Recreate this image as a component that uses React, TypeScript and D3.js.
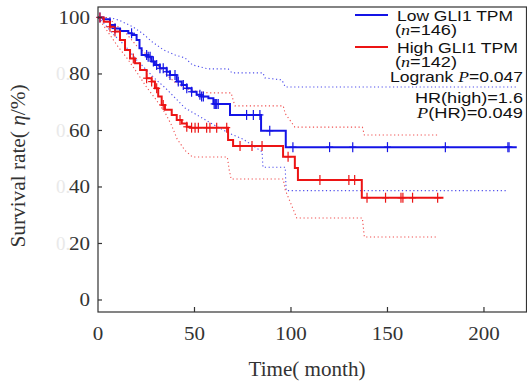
import * as d3 from "d3";

// Kaplan-Meier steps (time in months, survival in %)
const lowTime = [0, 2.7, 6.2, 8.8, 11.4, 15.7, 17.5, 20, 21.5, 22.6, 26, 27.8, 29.5, 32, 35.6, 37.3, 40.8, 43.4, 46, 48.5, 51.1, 53.7, 57.2, 59.8, 68.4, 84.5, 97.3];
const lowSurv = [100, 99.4, 97.3, 96.1, 95.2, 94.4, 93.8, 92, 89.1, 86.7, 86.1, 84.4, 83.2, 82, 80.8, 79.6, 77.3, 76.1, 74.9, 73.7, 72.6, 72, 71.4, 69.4, 65.5, 59.9, 54.1];
const lowEnd = 217;
const lowCensor = [1, 8.8, 17.4, 25.2, 26, 27, 28.7, 30.4, 32.1, 33.8, 35.6, 37.3, 39.9, 41.6, 44.2, 46, 48.5, 52.8, 53.7, 54.6, 60.2, 60.8, 61.5, 62.3, 77, 80.5, 83.9, 89, 101, 120, 132, 150, 180, 212.4, 213];

const highTime = [0, 3, 6.2, 8.8, 11.4, 14, 16.6, 19.2, 21.8, 25.2, 27.8, 29.5, 31.2, 33, 34.7, 38.2, 40.8, 43.4, 46, 47.7, 67.4, 70, 95.9, 102, 103.6, 136.7];
const highSurv = [100, 98.5, 96.7, 95, 92, 88.5, 85.5, 83.8, 81.4, 78.5, 77.3, 74.9, 72, 69, 67.3, 65.5, 63.7, 62.5, 61.3, 61, 56.6, 54.5, 50.7, 46.7, 42.5, 36.2];
const highEnd = 179;
const highCensor = [1, 6.2, 8.8, 18.3, 25.2, 27.8, 30.4, 33.8, 42.5, 46, 48.5, 50.3, 52, 56.3, 58, 61.5, 66.7, 73.6, 79.8, 85, 98.5, 115, 130, 133, 139.4, 149, 157, 158, 163, 176];

// confidence bands (dotted)
const lowUpper: [number, number][] = [[0, 100], [6, 100], [11, 99], [18, 96.7], [23, 94.4], [28, 91.4], [34, 88.5], [40, 86.7], [45, 85.7], [49, 83.2], [57, 81.8], [67.4, 81.8], [69.4, 80.4], [85.5, 80.4], [86.5, 78.6], [95.3, 77.9], [97, 75.4], [217, 75.4]];
const lowLower: [number, number][] = [[0, 100], [3, 98], [8, 94], [14, 90], [20, 85], [25, 81.5], [30, 78], [35, 75], [40, 71.5], [45, 68], [50, 66], [55, 64], [60, 62], [68, 59], [75, 57], [85, 52.5], [85.5, 47], [97, 47], [97.5, 38.7], [212, 38.7]];
const highUpper: [number, number][] = [[0, 100], [5, 100], [10, 97], [15, 94], [20, 90], [25, 87], [30, 84], [35, 80], [40, 77], [45, 75], [50, 74], [57, 73.3], [69, 73.3], [70, 70.8], [71, 68.7], [96, 68.7], [97, 66], [102, 61.2], [137, 61.2], [138, 58.4], [176, 58.4]];
const highLower: [number, number][] = [[0, 100], [2, 98], [5, 95], [10, 90], [15, 85.6], [20, 80.7], [25, 75.5], [30, 71], [35, 66], [38, 62], [41, 57], [45, 53], [49, 50.6], [67, 50.6], [68, 46], [69, 42.8], [96, 42.8], [97, 39], [103, 29], [137, 29], [138, 22.3], [176, 22.3]];

const yTicks = [0, 20, 40, 60, 80, 100];
const xTicks = [0, 50, 100, 150, 200];

const BLUE = "#1414e6";
const RED = "#ec1414";
const AXIS = "#333";
const SERIF = "'Liberation Serif', 'DejaVu Serif', serif";
const SANS = "'Liberation Sans', Arial, sans-serif";

const W = 527;
const H = 383;

const x = d3.scaleLinear().domain([0, 222.3]).range([98, 527]);
const y = d3.scaleLinear().domain([-4.25, 103.7]).range([312, 7]);

const survAt = (times: number[], surv: number[], t: number) => {
  let v = surv[0];
  for (let i = 0; i < times.length; i++) if (times[i] <= t) v = surv[i];
  return v;
};

const stepLine = d3
  .line<[number, number]>()
  .x((d) => x(d[0]))
  .y((d) => y(d[1]))
  .curve(d3.curveStepAfter);

const ciLine = d3
  .line<[number, number]>()
  .x((d) => x(d[0]))
  .y((d) => y(d[1]));

const stepPoints = (times: number[], surv: number[], end: number) => {
  const pts: [number, number][] = times.map((t, i) => [t, surv[i]]);
  pts.push([end, surv[surv.length - 1]]);
  return pts;
};

const Censors = ({ times, surv, marks, color }: { times: number[]; surv: number[]; marks: number[]; color: string }) => (
  <g stroke={color} strokeWidth={1.2}>
    {marks.map((t, i) => {
      const cx = x(t);
      const cy = y(survAt(times, surv, t));
      return (
        <g key={i}>
          <line x1={cx} x2={cx} y1={cy - 5} y2={cy + 5} />
          <line x1={cx - 3.5} x2={cx + 3.5} y1={cy} y2={cy} />
        </g>
      );
    })}
  </g>
);

export default function App() {
  return (
    <svg
      width={W}
      height={H}
      style={{ position: "absolute", left: 0, top: 0, background: "#fff" }}
    >
      {/* confidence bands */}
      <g fill="none" strokeWidth={1.1} strokeDasharray="1.2 2.6" opacity={0.75}>
        <path d={ciLine(lowUpper) ?? ""} stroke={BLUE} />
        <path d={ciLine(lowLower) ?? ""} stroke={BLUE} />
        <path d={ciLine(highUpper) ?? ""} stroke={RED} />
        <path d={ciLine(highLower) ?? ""} stroke={RED} />
      </g>

      {/* survival curves */}
      <path d={stepLine(stepPoints(lowTime, lowSurv, lowEnd)) ?? ""} fill="none" stroke={BLUE} strokeWidth={2} />
      <path d={stepLine(stepPoints(highTime, highSurv, highEnd)) ?? ""} fill="none" stroke={RED} strokeWidth={2} />
      <Censors times={lowTime} surv={lowSurv} marks={lowCensor} color={BLUE} />
      <Censors times={highTime} surv={highSurv} marks={highCensor} color={RED} />

      {/* frame */}
      <rect x={98} y={7} width={428.5} height={305} fill="none" stroke={AXIS} strokeWidth={1.2} />

      {/* y axis */}
      <g fontFamily={SERIF} fontSize={19} fill={AXIS}>
        {yTicks.map((v) => {
          const ty = y(v);
          const label = String(v);
          return (
            <g key={v}>
              <line x1={98} x2={102} y1={ty} y2={ty} stroke={AXIS} strokeWidth={1.2} />
              {v > 0 && v < 100 && (
                <text x={56} y={ty + 6.5} fill="#e9e9e9">0.</text>
              )}
              <text x={90} y={ty + 6.5} textAnchor="end" textLength={label.length * 10.5} lengthAdjust="spacingAndGlyphs">
                {label}
              </text>
            </g>
          );
        })}
      </g>

      {/* x axis */}
      <g fontFamily={SERIF} fontSize={19} fill={AXIS}>
        {xTicks.map((v) => {
          const tx = x(v);
          const label = String(v);
          return (
            <g key={v}>
              {v > 0 && <line x1={tx} x2={tx} y1={312} y2={307} stroke={AXIS} strokeWidth={1.2} />}
              <text x={tx} y={340} textAnchor="middle" textLength={label.length * 10.5} lengthAdjust="spacingAndGlyphs">
                {label}
              </text>
            </g>
          );
        })}
      </g>

      {/* axis titles */}
      <text x={307} y={376} textAnchor="middle" fontFamily={SERIF} fontSize={20} fill={AXIS} textLength={117} lengthAdjust="spacingAndGlyphs">
        Time( month)
      </text>
      <text
        transform="translate(25,166) rotate(-90)"
        textAnchor="middle"
        fontFamily={SERIF}
        fontSize={20}
        fill={AXIS}
        textLength={163}
        lengthAdjust="spacingAndGlyphs"
      >
        Survival rate( <tspan fontStyle="italic">η</tspan>/%)
      </text>

      {/* legend */}
      <g fontFamily={SANS} fontSize={14} fill="#111">
        <line x1={355} x2={388} y1={15} y2={15} stroke={BLUE} strokeWidth={2} />
        <text x={397} y={20.5} textLength={116} lengthAdjust="spacingAndGlyphs">Low GLI1 TPM</text>
        <text x={395} y={35} textLength={62} lengthAdjust="spacingAndGlyphs">
          (<tspan fontFamily={SERIF} fontStyle="italic">n</tspan>=146)
        </text>
        <line x1={355} x2={388} y1={47} y2={47} stroke={RED} strokeWidth={2} />
        <text x={397} y={52.5} textLength={121} lengthAdjust="spacingAndGlyphs">High GLI1 TPM</text>
        <text x={395} y={67} textLength={62} lengthAdjust="spacingAndGlyphs">
          (<tspan fontFamily={SERIF} fontStyle="italic">n</tspan>=142)
        </text>
        <text x={523} y={81.5} textAnchor="end" textLength={133} lengthAdjust="spacingAndGlyphs">
          Logrank <tspan fontFamily={SERIF} fontStyle="italic">P</tspan>=0.047
        </text>
        <text x={523} y={102.5} textAnchor="end" textLength={108} lengthAdjust="spacingAndGlyphs">HR(high)=1.6</text>
        <text x={523} y={117.5} textAnchor="end" textLength={106} lengthAdjust="spacingAndGlyphs">
          <tspan fontFamily={SERIF} fontStyle="italic">P</tspan>(HR)=0.049
        </text>
      </g>
    </svg>
  );
}
